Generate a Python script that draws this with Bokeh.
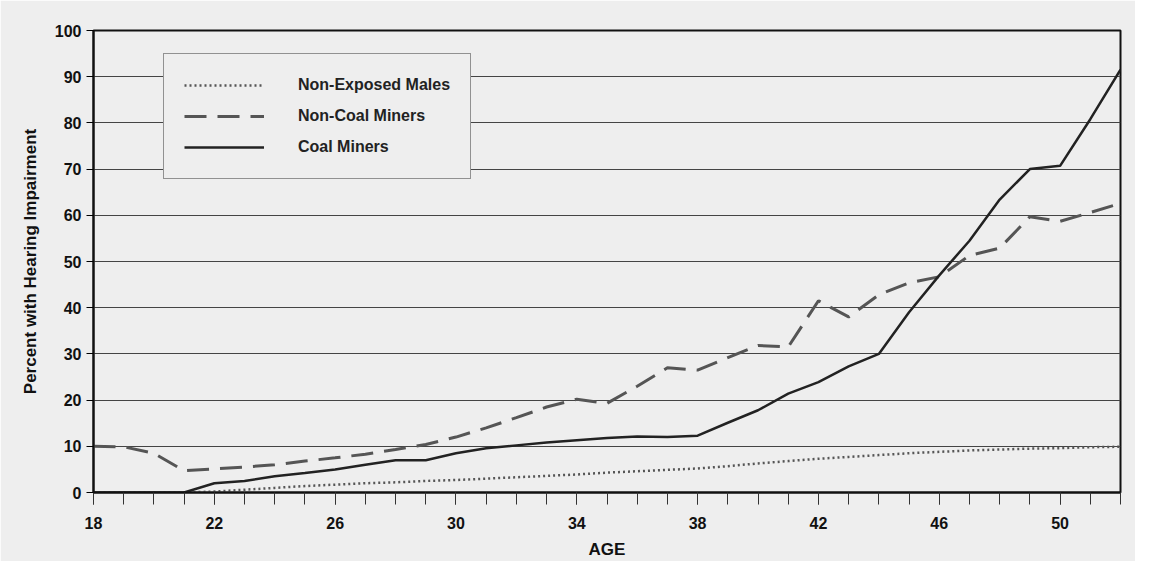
from bokeh.plotting import figure
from bokeh.models import FixedTicker, Legend, LegendItem, ColumnDataSource
from bokeh.embed import file_html
from bokeh.resources import INLINE

ages = list(range(18, 53))

non_exposed = [0, 0, 0, 0, 0.2, 0.6, 1.0, 1.4, 1.7, 2.0, 2.2, 2.5, 2.7, 3.0, 3.3, 3.6, 3.9,
               4.3, 4.6, 4.9, 5.2, 5.7, 6.3, 6.8, 7.3, 7.7, 8.1, 8.5, 8.8, 9.1, 9.3, 9.5,
               9.6, 9.8, 9.9]
non_coal = [10, 9.9, 8.5, 4.7, 5.1, 5.5, 6.0, 6.8, 7.5, 8.3, 9.3, 10.4, 12.0, 14.0, 16.2,
            18.5, 20.2, 19.3, 23.0, 27.0, 26.5, 29.2, 31.8, 31.5, 41.5, 38.0, 42.8, 45.4,
            46.7, 51.3, 52.9, 59.7, 58.7, 60.6, 62.6]
coal = [0, 0, 0, 0, 2.0, 2.5, 3.5, 4.2, 5.0, 6.0, 7.0, 7.0, 8.5, 9.6, 10.2, 10.8, 11.3,
        11.8, 12.1, 12.0, 12.3, 15.1, 17.8, 21.4, 23.9, 27.3, 30.0, 39.0, 47.0, 54.5,
        63.4, 70.0, 70.7, 80.8, 91.5]

y_ticks = list(range(0, 101, 10))
x_label_ticks = list(range(18, 51, 4))

BG = "#eeeeee"
FONT = "Liberation Sans"

src = ColumnDataSource(dict(age=ages, ne=non_exposed, nc=non_coal, cm=coal))

p = figure(width=1135, height=561, x_range=(18, 52), y_range=(0, 100),
           output_backend="svg", toolbar_location=None,
           min_border_left=93, min_border_right=15, min_border_top=30, min_border_bottom=58)
p.background_fill_color = BG
p.border_fill_color = BG
p.outline_line_color = "#111111"
p.outline_line_width = 2

r1 = p.line("age", "ne", source=src, line_color="#555555", line_width=2.5, line_dash="2 3")
r2 = p.line("age", "nc", source=src, line_color="#555555", line_width=3, line_dash="22 11")
r3 = p.line("age", "cm", source=src, line_color="#222222", line_width=2.5)

p.xgrid.grid_line_color = None
p.ygrid.ticker = FixedTicker(ticks=y_ticks)
p.ygrid.grid_line_color = "#444444"
p.ygrid.grid_line_width = 1

p.yaxis.ticker = FixedTicker(ticks=y_ticks)
p.yaxis.axis_line_color = "#111111"
p.yaxis.axis_line_width = 2
p.yaxis.major_tick_in = 0
p.yaxis.major_tick_out = 7
p.yaxis.minor_tick_line_color = None
p.yaxis.major_label_text_font = FONT
p.yaxis.major_label_text_font_style = "bold"
p.yaxis.major_label_text_font_size = "16px"
p.yaxis.major_label_text_color = "#111111"
p.yaxis.axis_label = "Percent with Hearing Impairment"
p.yaxis.axis_label_text_font = FONT
p.yaxis.axis_label_text_font_style = "bold"
p.yaxis.axis_label_text_font_size = "17px"
p.yaxis.axis_label_text_color = "#111111"
p.yaxis.axis_label_standoff = 12

p.xaxis.ticker = FixedTicker(ticks=x_label_ticks, minor_ticks=ages)
p.xaxis.axis_line_color = "#111111"
p.xaxis.axis_line_width = 2
p.xaxis.major_tick_in = 0
p.xaxis.major_tick_out = 12
p.xaxis.minor_tick_in = 0
p.xaxis.minor_tick_out = 12
p.xaxis.major_tick_line_color = "#333333"
p.xaxis.minor_tick_line_color = "#333333"
p.xaxis.major_label_standoff = 12
p.xaxis.major_label_text_font = FONT
p.xaxis.major_label_text_font_style = "bold"
p.xaxis.major_label_text_font_size = "16px"
p.xaxis.major_label_text_color = "#111111"
p.xaxis.axis_label = "AGE"
p.xaxis.axis_label_text_font = FONT
p.xaxis.axis_label_text_font_style = "bold"
p.xaxis.axis_label_text_font_size = "17px"
p.xaxis.axis_label_text_color = "#111111"
p.xaxis.axis_label_standoff = 8

legend = Legend(items=[
    LegendItem(label="Non-Exposed Males", renderers=[r1]),
    LegendItem(label="Non-Coal Miners", renderers=[r2]),
    LegendItem(label="Coal Miners", renderers=[r3]),
], location=(70, 313))
legend.background_fill_color = BG
legend.background_fill_alpha = 1
legend.border_line_color = "#333333"
legend.border_line_width = 1
legend.label_text_font = FONT
legend.label_text_font_style = "bold"
legend.label_text_font_size = "16px"
legend.label_text_color = "#222222"
legend.glyph_width = 80
legend.glyph_height = 22
legend.label_height = 22
legend.label_standoff = 34
legend.spacing = 9
legend.padding = 20
legend.margin = 0
legend.label_width = 146
p.add_layout(legend)

open("out.html", "w").write(file_html(p, INLINE))
